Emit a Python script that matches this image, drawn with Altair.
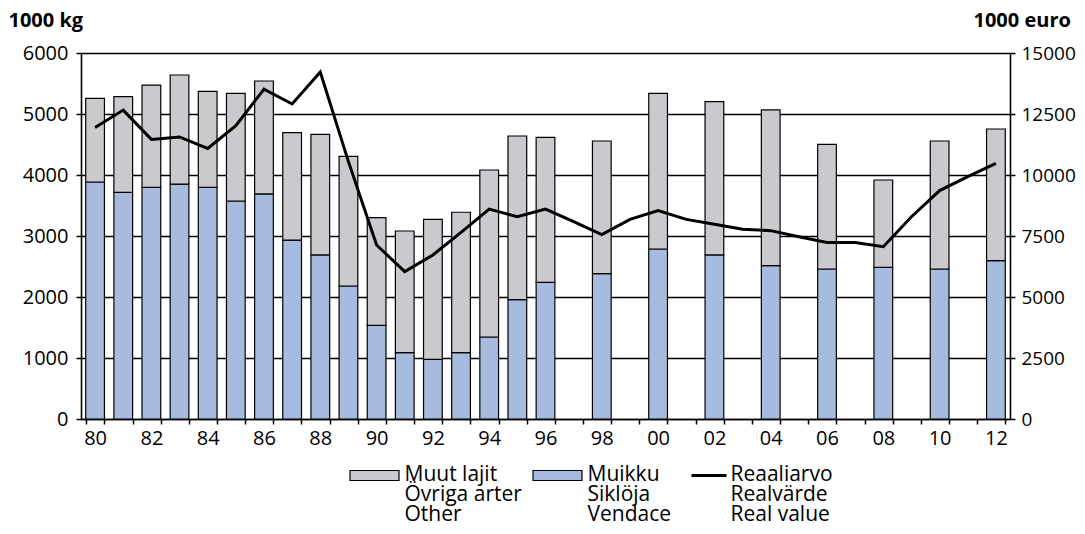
import altair as alt
import pandas as pd

# ---- data ----
bar_years = list(range(1980, 1997)) + list(range(1998, 2013, 2))
vendace = [3885, 3716, 3798, 3852, 3798, 3574, 3689, 2934, 2689, 2180, 1536, 1087, 979,
           1087, 1344, 1956, 2240, 2382, 2787, 2689, 2514, 2459, 2486, 2459, 2595]
other = [1372, 1568, 1677, 1787, 1574, 1765, 1852, 1760, 1978, 2125, 1764, 1995, 2295,
         2302, 2738, 2683, 2377, 2175, 2552, 2513, 2552, 2044, 1432, 2098, 2159]

line_years = list(range(1980, 2013))
real_value = [11950, 12660, 11460, 11560, 11090, 12020, 13520, 12910, 14220, 10550,
              7130, 6040, 6720, 7650, 8600, 8290, 8600, 8090, 7560, 8180, 8540, 8180,
              7980, 7780, 7720, 7470, 7230, 7230, 7060, 8290, 9360, 9930, 10480]

series_names = ["Muut lajit", "Muikku"]
series_colors = ["#C9C9CE", "#A7BBDE"]
legend_labels = [["Muut lajit", "Övriga arter", "Other"],
                 ["Muikku", "Siklöja", "Vendace"],
                 ["Reaaliarvo", "Realvärde", "Real value"]]

FONT = "Open Sans"
W, H = 929, 366

rows = []
for y, v, o in zip(bar_years, vendace, other):
    rows.append({"year": y, "series": "Muikku", "value": v, "ord": 0})
    rows.append({"year": y, "series": "Muut lajit", "value": o, "ord": 1})
bars_df = pd.DataFrame(rows)
line_df = pd.DataFrame({"year": line_years, "value": real_value})

x_scale = alt.Scale(domain=line_years, paddingInner=0.335, paddingOuter=0.1675)
x_axis = alt.Axis(
    title=None, tickBand="extent", tickSize=5, labelPadding=4, labelAngle=0,
    labelOverlap=False,
    labelExpr="datum.value % 2 == 0 ? substring(toString(datum.value), 2) : ''",
    grid=False,
)

bars = alt.Chart(bars_df).mark_bar(stroke="black", strokeWidth=1.2).encode(
    x=alt.X("year:O", scale=x_scale, axis=x_axis),
    y=alt.Y("value:Q", stack="zero",
            scale=alt.Scale(domain=[0, 6000], nice=False),
            axis=alt.Axis(orient="left", values=list(range(0, 6001, 1000)), format="d",
                          grid=True, gridColor="black", gridWidth=1.3,
                          tickSize=5, labelPadding=8,
                          title="1000 kg", titleAngle=0, titleAlign="left",
                          titleBaseline="alphabetic", titleX=-73, titleY=-27,
                          titleFont=FONT, titleFontSize=20, titleFontWeight="bold")),
    color=alt.Color("series:N", scale=alt.Scale(domain=series_names, range=series_colors),
                    legend=None),
    order=alt.Order("ord:Q"),
)

line = alt.Chart(line_df).mark_line(color="black", strokeWidth=3).encode(
    x=alt.X("year:O", scale=x_scale, axis=x_axis),
    y=alt.Y("value:Q", scale=alt.Scale(domain=[0, 15000], nice=False),
            axis=alt.Axis(orient="right", values=list(range(0, 15001, 2500)), format="d",
                          grid=False, tickSize=5, labelPadding=6, labelFontSize=19,
                          title="1000 euro", titleAngle=0, titleAlign="left",
                          titleBaseline="alphabetic", titleX=-37, titleY=-26.5,
                          titleFont=FONT, titleFontSize=20, titleFontWeight="bold")),
)

one = pd.DataFrame({"k": [0]})
base_y = 428
sw_y, sw_y2 = base_y - 10.5, base_y - 0.5
legend_layers = []
swatch_x = [(269, 318), (452, 501)]
text_x = [323.5, 506.5, 649.5]
for i in range(2):
    legend_layers.append(
        alt.Chart(one).mark_rect(fill=series_colors[i], stroke="black", strokeWidth=1.2).encode(
            x=alt.value(swatch_x[i][0]), x2=alt.value(swatch_x[i][1]),
            y=alt.value(sw_y), y2=alt.value(sw_y2)))
legend_layers.append(
    alt.Chart(one).mark_rule(color="black", strokeWidth=3).encode(
        x=alt.value(610.5), x2=alt.value(645.5), y=alt.value(base_y - 5.5)))
for i in range(3):
    legend_layers.append(
        alt.Chart(one).mark_text(font=FONT, fontSize=21, align="left", baseline="alphabetic",
                                 lineHeight=20, color="black").encode(
            x=alt.value(text_x[i]), y=alt.value(base_y), text=alt.value(legend_labels[i])))

chart = alt.layer(bars, line, *legend_layers).resolve_scale(y="independent").properties(
    width=W, height=H,
    autosize=alt.AutoSizeParams(type="none"),
    padding={"left": 73, "top": 45, "right": 67, "bottom": 107},
).configure_view(stroke=None).configure_axis(
    domainColor="black", domainWidth=1.6, tickColor="black", tickWidth=1.5,
    labelFont=FONT, labelFontSize=20, labelColor="black", titleColor="black",
)

chart.save("out.html", embed_options={"renderer": "svg", "actions": False})
